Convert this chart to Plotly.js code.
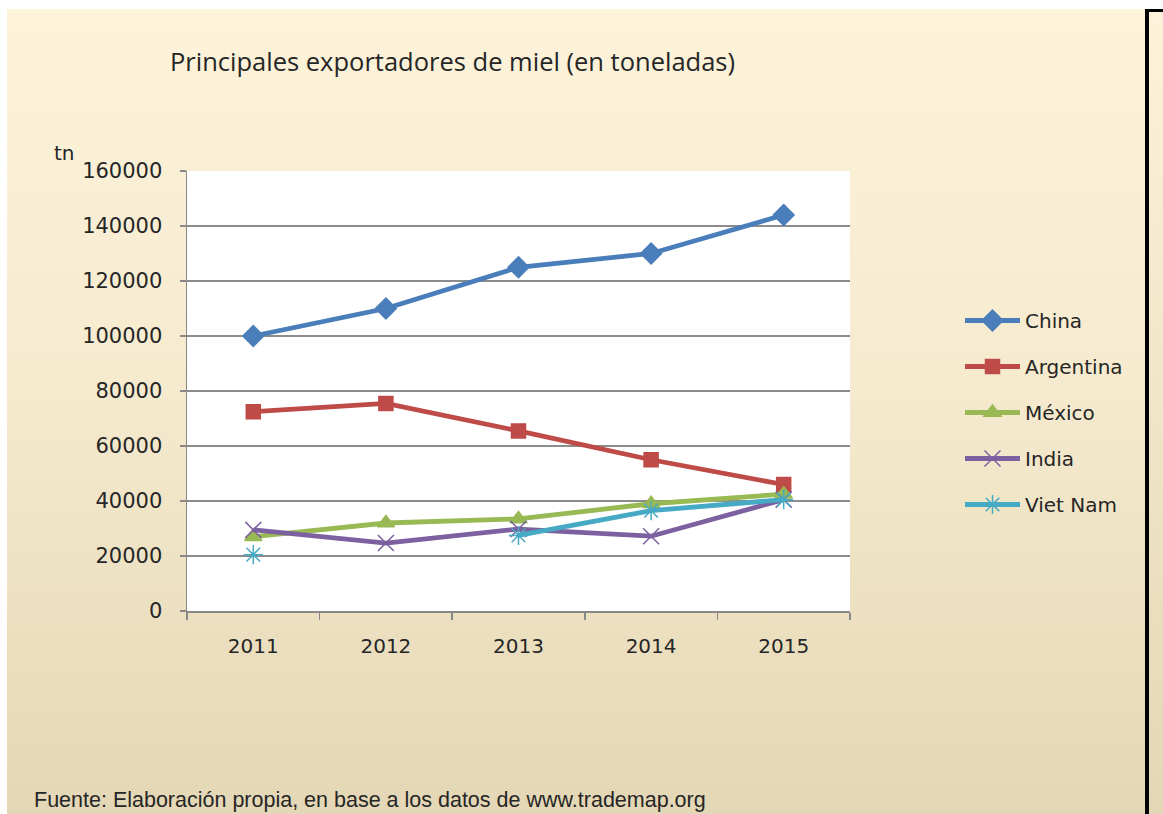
<!DOCTYPE html>
<html>
<head>
<meta charset="utf-8">
<script src="https://cdn.plot.ly/plotly-3.0.1.min.js"></script>
<style>
  html, body { margin:0; padding:0; width:1163px; height:814px; overflow:hidden; background:#ffffff; }
  #bg { position:absolute; left:7px; top:9px; width:1138px; height:805px;
        background:linear-gradient(to bottom, #fdf3da 0%, #f6ebcf 45%, #e4d7b6 100%); }
  #bar { position:absolute; left:1145px; top:9px; width:4px; height:805px; background:#000; }
  #bartop { position:absolute; left:1145px; top:9px; width:18px; height:3px; background:#000; }
  #bg2 { position:absolute; left:1149px; top:12px; width:14px; height:802px;
        background:linear-gradient(to bottom, #fdf3da 0%, #e4d7b6 100%); }
  #chart { position:absolute; left:0; top:0; width:1163px; height:814px; }
</style>
</head>
<body>
<div id="bg"></div><div id="bar"></div><div id="bartop"></div><div id="bg2"></div>
<div id="chart"></div>
<script>
const years = ["2011", "2012", "2013", "2014", "2015"];
const china = [100000, 110000, 125000, 130000, 144000];
const argentina = [72500, 75500, 65500, 55000, 46000];
const mexico = [27000, 32000, 33500, 39000, 42500];
const india = [29500, 24700, 29800, 27200, 40500];
const vietnam = [20500, null, 27500, 36500, 40500];
const yTicks = [0, 20000, 40000, 60000, 80000, 100000, 120000, 140000, 160000];

function tr(name, y, color, symbol, size, group) {
  return {
    x: years, y: y, name: name, type: "scatter", mode: "lines+markers",
    legendgroup: group,
    line: { color: color, width: 4.8 },
    marker: { symbol: symbol, size: size, color: color, line: { color: color, width: 1.5 } },
    connectgaps: false
  };
}

const data = [
  tr("China", china, "#4a7ebb", "diamond", 16, "a"),
  tr("Argentina", argentina, "#be4b48", "square", 14, "b"),
  tr("México", mexico, "#98b954", "triangle-up", 15, "c"),
  tr("India", india, "#7d60a0", "x-thin-open", 16, "d"),
  tr("Viet Nam", vietnam, "#46aac5", "asterisk-open", 16, "e")
];

const layout = {
  width: 1163, height: 814,
  paper_bgcolor: "rgba(0,0,0,0)",
  plot_bgcolor: "#ffffff",
  margin: { l: 187, r: 313, t: 171, b: 203 },
  showlegend: true,
  title: {
    text: "Principales exportadores de miel (en toneladas)",
    font: { family: "Open Sans, sans-serif", size: 25.5, color: "#262626" },
    xref: "container", yref: "container",
    x: 170 / 1163, xanchor: "left",
    y: 1 - 62 / 814, yanchor: "middle"
  },
  xaxis: {
    type: "category",
    range: [-0.5, 4.5],
    tickson: "boundaries",
    ticks: "outside", ticklen: 7, tickwidth: 1.5, tickcolor: "#888888",
    showline: true, linecolor: "#888888", linewidth: 1.5,
    showgrid: false,
    tickfont: { family: "DejaVu Sans, sans-serif", size: 20, color: "#262626" },
    ticklabelstandoff: 16,
    fixedrange: true
  },
  yaxis: {
    range: [0, 160000],
    tickvals: yTicks,
    ticktext: yTicks.map(String),
    ticks: "outside", ticklen: 6, tickwidth: 1.5, tickcolor: "#888888",
    showline: true, linecolor: "#888888", linewidth: 1.5,
    showgrid: true, gridcolor: "#8c8c8c", gridwidth: 1.5,
    zeroline: false,
    tickfont: { family: "DejaVu Sans, sans-serif", size: 21, color: "#262626" },
    ticklabelstandoff: 13,
    fixedrange: true
  },
  legend: {
    xref: "container", yref: "container",
    x: 960 / 1163, xanchor: "left",
    y: 1 - 301 / 814, yanchor: "top",
    bgcolor: "rgba(0,0,0,0)",
    font: { family: "DejaVu Sans, sans-serif", size: 20, color: "#262626" },
    tracegroupgap: 17,
    itemwidth: 55
  },
  annotations: [
    { text: "tn", xref: "paper", yref: "paper", x: -0.203, y: 1.04, xanchor: "left", yanchor: "middle",
      showarrow: false, font: { family: "DejaVu Sans, sans-serif", size: 20, color: "#262626" } },
    { text: "Fuente: Elaboración propia, en base a los datos de www.trademap.org",
      xref: "paper", yref: "paper", x: -0.234, y: (814 - 800 - 203) / 440 * 1, xanchor: "left", yanchor: "middle",
      showarrow: false, font: { family: "Liberation Sans Narrow, Liberation Sans, sans-serif", size: 21.5, color: "#262626" } }
  ]
};

Plotly.newPlot("chart", data, layout, { staticPlot: true, displayModeBar: false });
</script>
</body>
</html>
